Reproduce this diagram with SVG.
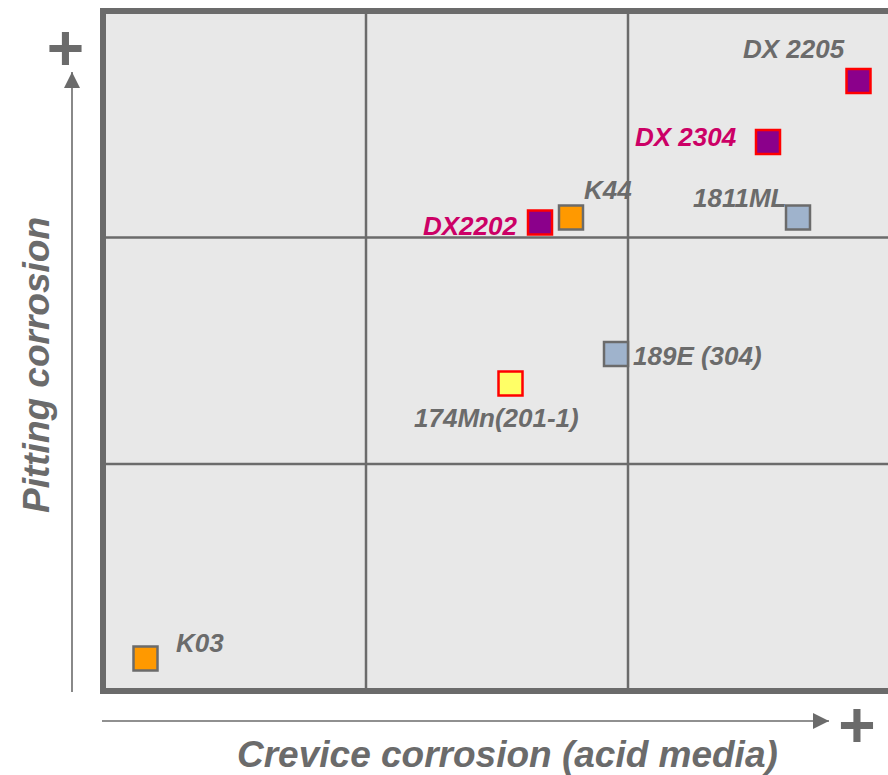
<svg xmlns="http://www.w3.org/2000/svg" width="888" height="775" viewBox="0 0 888 775">
<style>
.lbl{font-family:"Liberation Sans",Arial,sans-serif;font-weight:bold;font-style:italic;font-size:26px;fill:#6b6b6b}
.mag{fill:#cc0066}
.axis{font-family:"Liberation Sans",Arial,sans-serif;font-weight:bold;font-style:italic;font-size:37px;fill:#6b6b6b}
.plus{font-family:"Liberation Sans",Arial,sans-serif;font-weight:bold;font-size:64px;fill:#6b6b6b;text-anchor:middle}
.grid{stroke:#6b6b6b;stroke-width:2.5;fill:none}
.arr{stroke:#6b6b6b;stroke-width:1.6;fill:none}
.sq-red{stroke:#ff0000;stroke-width:2.5}
.sq-gray{stroke:#6b6b6b;stroke-width:2.5}
</style>
<defs>
<marker id="ah" viewBox="0 0 16 16" refX="16" refY="8" markerWidth="16" markerHeight="16" markerUnits="userSpaceOnUse" orient="auto">
<path d="M0,0 L16,8 L0,16 Z" fill="#6b6b6b"/>
</marker>
</defs>
<rect width="888" height="775" fill="#ffffff"/>
<g id="plot-frame">
<rect x="103" y="11" width="789" height="680" fill="#e8e8e8" stroke="#6b6b6b" stroke-width="6"/>
<line class="grid" x1="366" y1="11" x2="366" y2="691"/>
<line class="grid" x1="628" y1="11" x2="628" y2="691"/>
<line class="grid" x1="103" y1="237.5" x2="892" y2="237.5"/>
<line class="grid" x1="103" y1="464" x2="892" y2="464"/>
</g>
<g id="connectors">
<line class="arr" x1="72" y1="692" x2="72" y2="72" marker-end="url(#ah)"/>
<line class="arr" x1="102" y1="721" x2="829" y2="721" marker-end="url(#ah)"/>
</g>
<g id="axis-labels">
<text class="plus" x="65.5" y="70">+</text>
<text class="plus" x="857" y="747">+</text>
<text class="axis" x="237" y="767">Crevice corrosion (acid media)</text>
<text class="axis" transform="translate(49,513) rotate(-90)" x="0" y="0">Pitting corrosion</text>
</g>
<g id="dx2205">
<rect class="sq-red" x="846.5" y="69" width="24" height="24" fill="#8b008b"/>
<text class="lbl" x="743" y="58">DX 2205</text>
</g>
<g id="dx2304">
<rect class="sq-red" x="756" y="130" width="24" height="24" fill="#8b008b"/>
<text class="lbl mag" x="635" y="146">DX 2304</text>
</g>
<g id="s1811ml">
<rect class="sq-gray" x="786" y="205.5" width="24" height="24" fill="#9fb3cc"/>
<text class="lbl" x="693" y="207">1811ML</text>
</g>
<g id="dx2202">
<rect class="sq-red" x="528" y="210.5" width="24" height="24" fill="#8b008b"/>
<text class="lbl mag" x="423" y="235">DX2202</text>
</g>
<g id="k44">
<rect class="sq-gray" x="559" y="205.5" width="24" height="24" fill="#ff9900"/>
<text class="lbl" x="584" y="199">K44</text>
</g>
<g id="s189e">
<rect class="sq-gray" x="604" y="342" width="24" height="24" fill="#9fb3cc"/>
<text class="lbl" x="633" y="365">189E (304)</text>
</g>
<g id="s174mn">
<rect class="sq-red" x="498.5" y="371.5" width="24" height="24" fill="#ffff66"/>
<text class="lbl" x="414" y="427">174Mn(201-1)</text>
</g>
<g id="k03">
<rect class="sq-gray" x="133.5" y="646.5" width="24" height="24" fill="#ff9900"/>
<text class="lbl" x="176" y="652">K03</text>
</g>
</svg>
